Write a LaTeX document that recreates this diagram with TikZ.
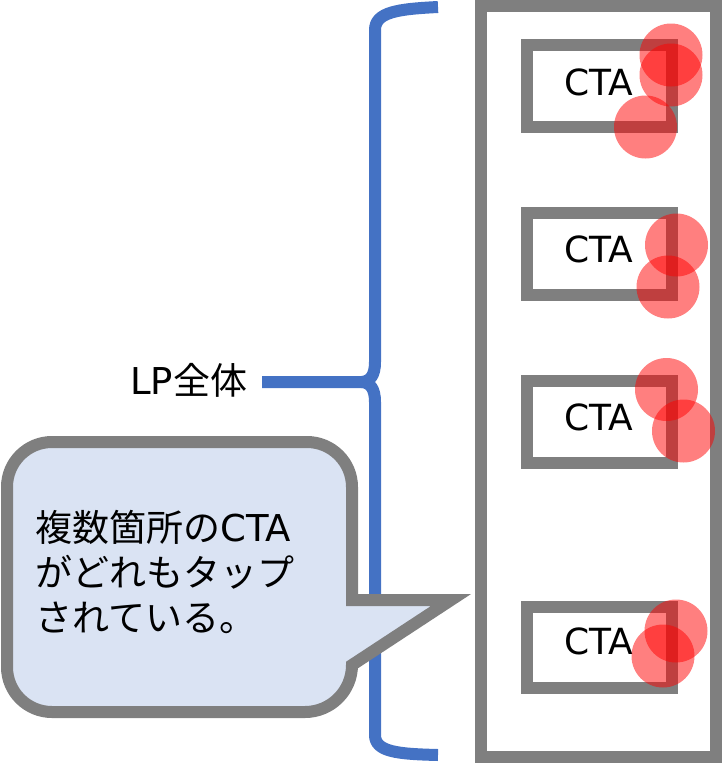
\documentclass[tikz,border=0pt]{standalone}
\usepackage{fontspec}
\setmainfont{DejaVu Sans}
\newfontfamily\jp{Noto Sans CJK JP}
\definecolor{bracecol}{HTML}{4472C4}
\definecolor{framegray}{HTML}{7F7F7F}
\definecolor{calloutfill}{HTML}{DAE3F3}
\begin{document}
\begin{tikzpicture}[x=1pt,y=-1pt,
  frameline/.style={draw=framegray,line width=11.5pt},
  ctabox/.style={frameline},
  tap/.style={fill=red,fill opacity=0.5,draw=none},
  ctatext/.style={font=\fontsize{36}{40}\selectfont,inner sep=0pt,anchor=center},
  bigtext/.style={font=\fontsize{37}{45}\selectfont,inner sep=0pt,anchor=base west},
  bracestyle/.style={draw=bracecol,line width=12pt,line join=round}]
\useasboundingbox (0,0) rectangle (723,764);
% page frame
\draw[frameline] (481,6) rectangle (716,757);
% CTA boxes
\draw[ctabox] (527,45) rectangle (672,127);
\draw[ctabox] (527,213) rectangle (672,295);
\draw[ctabox] (527,381) rectangle (672,463);
\draw[ctabox] (527,607) rectangle (672,688);
\node[ctatext] (cta1) at (599,82) {CTA};
\node[ctatext] (cta2) at (599,249) {CTA};
\node[ctatext] (cta3) at (599,417) {CTA};
\node[ctatext] (cta4) at (599,641) {CTA};
% taps
\fill[tap] (671,55) circle (31.5);
\fill[tap] (671,75) circle (31.5);
\fill[tap] (645.5,127) circle (31.5);
\fill[tap] (676.5,245) circle (31.5);
\fill[tap] (668,287) circle (31.5);
\fill[tap] (666.5,389.5) circle (31.5);
\fill[tap] (683.5,431) circle (31.5);
\fill[tap] (676,631) circle (31.5);
\fill[tap] (663,656) circle (31.5);
% brace
\coordinate (cusp) at (362,382);
\draw[bracestyle] (438,7) .. controls (398,9) and (375,12) .. (375,30) -- (375,362)
   .. controls (375,376) and (370,381) .. (cusp) -- (262,382);
\draw[bracestyle] (cusp) .. controls (370,383) and (375,388) .. (375,402) -- (375,735)
   .. controls (375,752) and (398,754) .. (438,755);
\node[bigtext] (lp) at (130,394) {LP{\jp 全体}};
% callout
\draw[draw=framegray,line width=12pt,fill=calloutfill,line join=miter,miter limit=10]
  (52,442) -- (307,442) arc[start angle=-90,end angle=0,radius=45] -- (352,600) -- (451,600)
  -- (352,665) arc[start angle=0,end angle=90,radius=47]
  -- (52,712) arc[start angle=90,end angle=180,radius=45]
  -- (7,487) arc[start angle=180,end angle=270,radius=45] -- cycle;
\node[bigtext] (t1) at (35,541) {{\jp 複数箇所の}CTA};
\node[bigtext] (t2) at (35,586) {\jp がどれもタップ};
\node[bigtext] (t3) at (35,631) {\jp されている。};
\end{tikzpicture}
\end{document}
